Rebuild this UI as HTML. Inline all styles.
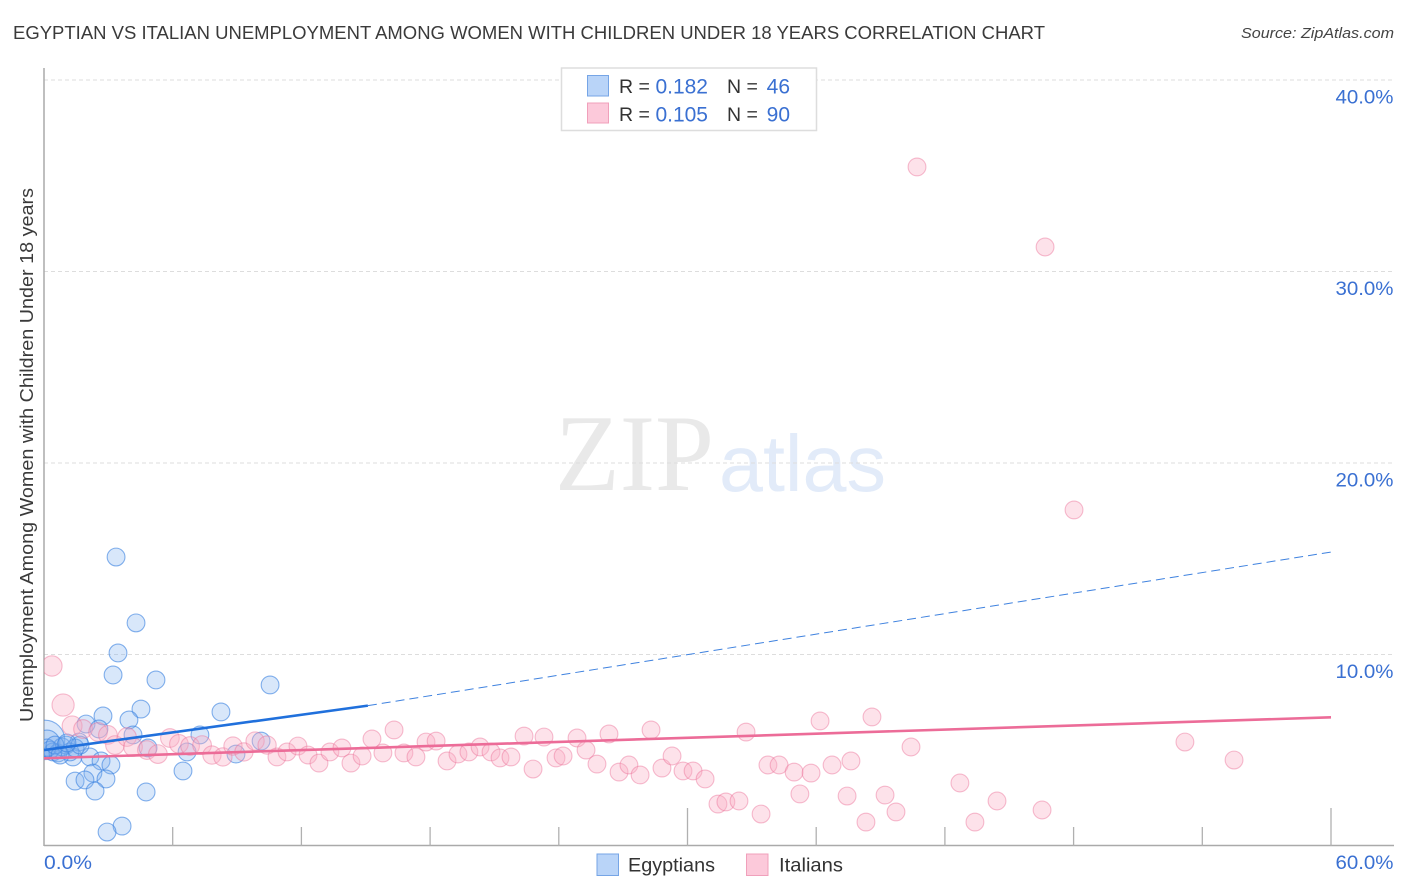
<!DOCTYPE html>
<html lang="en">
<head>
<meta charset="utf-8">
<title>Egyptian vs Italian Unemployment Correlation Chart</title>
<style>
  html, body { margin: 0; padding: 0; background: #fff; }
  body { width: 1406px; height: 892px; overflow: hidden; }
  svg { display: block; font-family: "Liberation Sans", sans-serif; }
</style>
</head>
<body>
<svg id="chart" width="1406" height="892" viewBox="0 0 1406 892" xmlns="http://www.w3.org/2000/svg">
  <defs>
    <clipPath id="plot-clip"><rect x="44" y="60" width="1350" height="786"></rect></clipPath>
  </defs>
  <rect x="0" y="0" width="1406" height="892" fill="#ffffff"></rect>

  <text x="13" y="39" font-size="18.5" fill="#3a3a3a" textLength="1032" lengthAdjust="spacingAndGlyphs">EGYPTIAN VS ITALIAN UNEMPLOYMENT AMONG WOMEN WITH CHILDREN UNDER 18 YEARS CORRELATION CHART</text>
  <text x="1394" y="38" font-size="15" font-style="italic" fill="#444444" text-anchor="end" textLength="153" lengthAdjust="spacingAndGlyphs">Source: ZipAtlas.com</text>

  <g>
    <text x="555" y="490" font-family="'Liberation Serif', serif" font-size="109" fill="#e9e9e9" textLength="159" lengthAdjust="spacingAndGlyphs">ZIP</text>
    <text x="719" y="491" font-size="80" fill="#e2ebf9" textLength="167" lengthAdjust="spacingAndGlyphs">atlas</text>
  </g>

  <g id="grid"></g>
  <g id="axes"></g>
  <g id="egyptian-points" clip-path="url(#plot-clip)"></g>
  <g id="italian-points" clip-path="url(#plot-clip)"></g>
  <g id="trends"></g>
  <g id="tick-labels"></g>

  <text transform="translate(33,722) rotate(-90)" font-size="18.5" fill="#3a3a3a" textLength="534" lengthAdjust="spacingAndGlyphs">Unemployment Among Women with Children Under 18 years</text>

  <g>
    <rect x="561.5" y="68" width="255" height="62.5" fill="#ffffff" stroke="#dddddd" stroke-width="1.5"></rect>
    <rect x="587.5" y="75.5" width="21" height="20.5" fill="#b9d4f8" stroke="#76a5e6" stroke-width="1"></rect>
    <rect x="587.5" y="103" width="21" height="20" fill="#fcc9da" stroke="#f0a0bb" stroke-width="1"></rect>
    <g font-size="19.5" fill="#333333">
      <text x="619" y="93">R =</text>
      <text x="727" y="93">N =</text>
      <text x="619" y="121">R =</text>
      <text x="727" y="121">N =</text>
    </g>
    <g font-size="21" fill="#3a70d2" text-anchor="end">
      <text x="708" y="93.5">0.182</text>
      <text x="790" y="93.5">46</text>
      <text x="708" y="121.5">0.105</text>
      <text x="790" y="121.5">90</text>
    </g>
  </g>

  <g>
    <g>
      <rect x="597" y="854" width="21.5" height="21.5" fill="#b9d4f8" stroke="#76a5e6" stroke-width="1"></rect>
      <text x="628" y="871.5" font-size="19.5" fill="#333333" textLength="87" lengthAdjust="spacingAndGlyphs">Egyptians</text>
    </g>
    <g>
      <rect x="746.5" y="854" width="21.5" height="21.5" fill="#fcc9da" stroke="#f0a0bb" stroke-width="1"></rect>
      <text x="779" y="871.5" font-size="19.5" fill="#333333" textLength="64" lengthAdjust="spacingAndGlyphs">Italians</text>
    </g>
  </g>
</svg>

<script>
const xTickValues = [0, 6, 12, 18, 24, 30, 36, 42, 48, 54, 60];
const xMajorTicks = [30, 60];
const xEdgeLabels = ['0.0%', '60.0%'];
const xEdgeValues = [0, 60];
const yGridValues = [10, 20, 30, 40];
const yTickLabels = ['10.0%', '20.0%', '30.0%', '40.0%'];

const egyptianX = [3.36, 4.29, 3.45, 3.22, 5.22, 10.54, 4.52, 8.25, 2.75, 3.96, 1.96, 2.56, 7.27, 4.15, 1.63, 4.85, 6.67, 8.95, 10.12, 1.35, 2.14, 2.66, 3.12, 6.48, 2.28, 1.45, 1.91, 2.89, 2.38, 4.76, 3.64, 2.94, 0.05, 0.14, 0.28, 0.42, 0.65, 0.84, 1.03, 1.21, 1.45, 1.68, 0.14, 0.51, 0.75, 1.07];
const egyptianY = [15.09, 11.65, 10.08, 8.93, 8.67, 8.41, 7.15, 7.00, 6.79, 6.58, 6.37, 6.11, 5.80, 5.80, 5.43, 5.12, 4.91, 4.80, 5.48, 4.65, 4.65, 4.44, 4.23, 3.92, 3.81, 3.39, 3.45, 3.50, 2.87, 2.82, 1.04, 0.73, 5.54, 5.38, 5.01, 4.91, 4.86, 5.17, 5.27, 4.91, 5.12, 5.27, 5.12, 5.27, 4.75, 5.38];
const egyptianWeight = [1, 1, 1, 1, 1, 1, 1, 1, 1, 1, 1, 1, 1, 1, 1, 1, 1, 1, 1, 1, 1, 1, 1, 1, 1, 1, 1, 1, 1, 1, 1, 1, 4.9, 2.1, 1, 1, 1, 1, 1, 1, 1, 1, 1, 1, 1, 1];

const italianX = [0.37, 0.89, 1.31, 1.82, 2.52, 2.98, 3.31, 3.87, 4.15, 4.80, 5.31, 5.87, 6.29, 6.81, 7.37, 7.83, 8.34, 8.81, 9.32, 9.84, 10.40, 10.86, 11.33, 11.84, 12.31, 12.82, 13.33, 13.89, 14.31, 14.83, 15.29, 15.80, 16.32, 16.78, 17.34, 17.81, 18.28, 18.79, 19.30, 19.81, 20.33, 20.84, 21.26, 21.77, 22.38, 22.80, 23.31, 23.87, 24.20, 24.85, 25.27, 25.78, 26.34, 26.81, 27.27, 27.79, 28.30, 28.81, 29.28, 29.79, 30.26, 30.82, 31.42, 31.79, 32.40, 32.73, 33.43, 33.75, 34.27, 34.97, 35.24, 35.76, 36.18, 36.74, 37.44, 37.62, 38.32, 38.60, 39.21, 39.72, 40.42, 42.70, 43.40, 44.43, 46.53, 53.19, 55.48, 48.02, 46.67, 40.70];
const italianY = [9.40, 7.36, 6.27, 6.11, 5.95, 5.80, 5.27, 5.69, 5.17, 5.01, 4.80, 5.64, 5.33, 5.22, 5.27, 4.75, 4.65, 5.22, 4.91, 5.48, 5.27, 4.65, 4.91, 5.22, 4.75, 4.33, 4.91, 5.12, 4.33, 4.70, 5.59, 4.86, 6.06, 4.86, 4.65, 5.43, 5.48, 4.44, 4.80, 4.91, 5.17, 4.91, 4.60, 4.65, 5.74, 4.02, 5.69, 4.60, 4.70, 5.64, 5.01, 4.28, 5.85, 3.86, 4.23, 3.71, 6.06, 4.07, 4.70, 3.92, 3.92, 3.50, 2.19, 2.30, 2.35, 5.95, 1.67, 4.23, 4.23, 3.86, 2.72, 3.81, 6.53, 4.23, 2.61, 4.44, 1.25, 6.74, 2.66, 1.78, 5.17, 3.29, 1.25, 2.35, 1.88, 5.43, 4.49, 17.55, 31.28, 35.46];
const italianWeight = [1.3, 1.55, 1.25, 1.1, 1.1, 1.1, 1.1, 1.1, 1.1, 1.1, 1.1, 1.1, 1.1, 1.1, 1.1, 1.05, 1.05, 1.05, 1.05, 1.05, 1.05, 1, 1, 1, 1, 1, 1, 1, 1, 1, 1, 1, 1, 1, 1, 1, 1, 1, 1, 1, 1, 1, 1, 1, 1, 1, 1, 1, 1, 1, 1, 1, 1, 1, 1, 1, 1, 1, 1, 1, 1, 1, 1, 1, 1, 1, 1, 1, 1, 1, 1, 1, 1, 1, 1, 1, 1, 1, 1, 1, 1, 1, 1, 1, 1, 1, 1, 1, 1, 1];

const egyptianTrendX = [0, 15.1];
const egyptianTrendY = [5.01, 7.33];
const egyptianProjectionX = [15.1, 60];
const egyptianProjectionY = [7.33, 15.35];
const italianTrendX = [0, 60];
const italianTrendY = [4.58, 6.72];

const SVG_NS = 'http://www.w3.org/2000/svg';
function xScale(v) { return 44 + (v / 60) * 1287; }
function yScale(v) { return 846 - (v / 40) * 766; }
function radius(w) { return 8.9 * Math.sqrt(w); }
function make(tag, attrs, parent) {
  const el = document.createElementNS(SVG_NS, tag);
  for (const k in attrs) el.setAttribute(k, attrs[k]);
  parent.appendChild(el);
  return el;
}

const gridG = document.getElementById('grid');
yGridValues.forEach(function (v) {
  const line = make('line', { x1: 44, x2: 1394, y1: yScale(v), y2: yScale(v), stroke: '#dddddd', 'stroke-width': 1, 'stroke-dasharray': '4 3' }, gridG);
  
  
});

const axesG = document.getElementById('axes');
const yAxisLine = make('line', { x1: 44, x2: 44, y1: 68, y2: 846, stroke: '#aaaaaa', 'stroke-width': 1.5 }, axesG);


const xAxisLine = make('line', { x1: 44, x2: 1394, y1: 845.5, y2: 845.5, stroke: '#aaaaaa', 'stroke-width': 1.5 }, axesG);


xTickValues.slice(1).forEach(function (v) {
  const top = xMajorTicks.indexOf(v) >= 0 ? 808 : 827;
  const tick = make('line', { x1: xScale(v), x2: xScale(v), y1: top, y2: 846, stroke: '#b0b0b0', 'stroke-width': 1.3 }, axesG);
  
  
});

function drawPoints(groupId, xs, ys, ws, fill, stroke, name) {
  const g = document.getElementById(groupId);
  xs.forEach(function (x, i) {
    const c = make('circle', { cx: xScale(x), cy: yScale(ys[i]), r: radius(ws[i]), fill: fill, stroke: stroke, 'stroke-width': 1.1 }, g);
    
    
  });
}
drawPoints('egyptian-points', egyptianX, egyptianY, egyptianWeight, 'rgba(125,175,240,0.30)', 'rgba(60,130,225,0.62)', 'egyptian-point');
drawPoints('italian-points', italianX, italianY, italianWeight, 'rgba(250,175,198,0.36)', 'rgba(235,110,150,0.45)', 'italian-point');

const trendG = document.getElementById('trends');
const italianLine = make('line', { x1: xScale(italianTrendX[0]), y1: yScale(italianTrendY[0]), x2: xScale(italianTrendX[1]), y2: yScale(italianTrendY[1]), stroke: '#ec6c98', 'stroke-width': 2.6 }, trendG);


const egyptianLine = make('line', { x1: xScale(egyptianTrendX[0]), y1: yScale(egyptianTrendY[0]), x2: xScale(egyptianTrendX[1]), y2: yScale(egyptianTrendY[1]), stroke: '#2070dc', 'stroke-width': 2.6 }, trendG);


const egyptianDash = make('line', { x1: xScale(egyptianProjectionX[0]), y1: yScale(egyptianProjectionY[0]), x2: xScale(egyptianProjectionX[1]), y2: yScale(egyptianProjectionY[1]), stroke: '#3f82df', 'stroke-width': 1, 'stroke-dasharray': '9 5' }, trendG);



const labelG = document.getElementById('tick-labels');
yGridValues.forEach(function (v, i) {
  const t = make('text', { x: 1393.5, y: yScale(v) + 23.5, 'font-size': 19.5, fill: '#3a70d2', 'text-anchor': 'end', textLength: 58, lengthAdjust: 'spacingAndGlyphs' }, labelG);
  
  
  t.textContent = yTickLabels[i];
});
const x0Label = make('text', { x: xScale(xEdgeValues[0]), y: 869, 'font-size': 19.5, fill: '#3a70d2', textLength: 48, lengthAdjust: 'spacingAndGlyphs' }, labelG);


x0Label.textContent = xEdgeLabels[0];
const x1Label = make('text', { x: xScale(xEdgeValues[1]) + 62.5, y: 869, 'font-size': 19.5, fill: '#3a70d2', 'text-anchor': 'end', textLength: 58, lengthAdjust: 'spacingAndGlyphs' }, labelG);


x1Label.textContent = xEdgeLabels[1];
</script>
</body>
</html>
